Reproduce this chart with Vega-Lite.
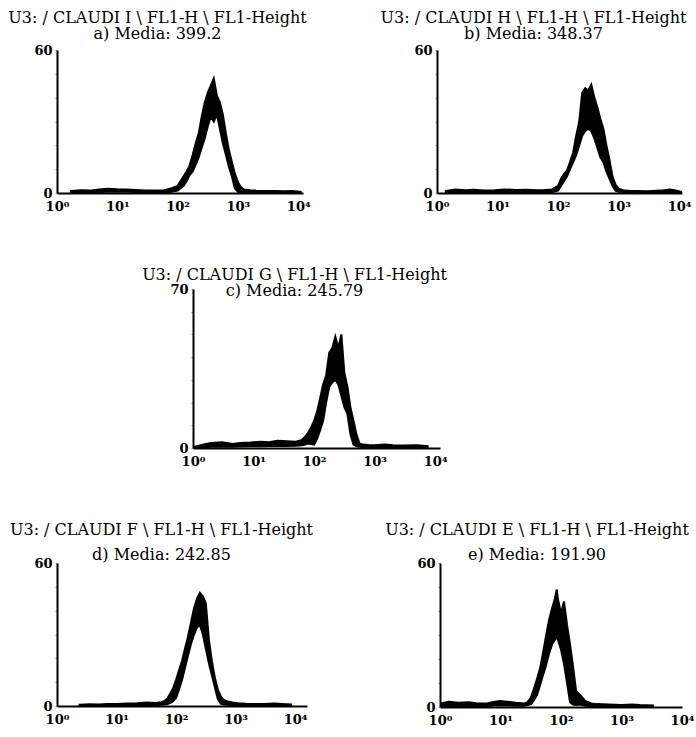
{
  "$schema": "https://vega.github.io/schema/vega-lite/v6.json",
  "padding": {"left": 8, "top": 10, "right": 0, "bottom": 0},
  "background": "white",
  "config": {
    "view": {"stroke": null},
    "title": {"font": "DejaVu Serif", "fontSize": 16, "fontWeight": "normal", "lineHeight": 16, "color": "black", "anchor": "middle"},
    "axis": {"domainColor": "black", "domainWidth": 2, "labelFont": "DejaVu Serif", "labelFontSize": 13, "labelFontWeight": "bold", "labelColor": "black", "grid": false, "title": null},
    "axisX": {"ticks": false, "labelPadding": 7, "labelFlush": false, "labelOverlap": false},
    "axisY": {"tickSize": 2, "tickColor": "#999", "labelPadding": 3}
  },
  "datasets": {
    "a": [
      {"x":1.7,"lo":0,"hi":0.8},{"x":2.5,"lo":0.2,"hi":1.2},{"x":3.5,"lo":0.3,"hi":1.0},{"x":5,"lo":0.4,"hi":1.5},{"x":7,"lo":0.5,"hi":1.8},{"x":10,"lo":0.6,"hi":1.6},{"x":14,"lo":0.5,"hi":1.5},{"x":20,"lo":0.4,"hi":1.3},{"x":30,"lo":0.3,"hi":1.0},{"x":45,"lo":0.2,"hi":1.0},{"x":60,"lo":0.3,"hi":1.2},{"x":80,"lo":0.5,"hi":2.0},
      {"x":100,"lo":1,"hi":3},{"x":112,"lo":2,"hi":5},{"x":126,"lo":3,"hi":7},{"x":141,"lo":5,"hi":9},{"x":158,"lo":7.5,"hi":11.5},{"x":178,"lo":9,"hi":16},{"x":200,"lo":12,"hi":21},{"x":224,"lo":15,"hi":25},{"x":251,"lo":19,"hi":32},{"x":282,"lo":23,"hi":38},{"x":316,"lo":28,"hi":42},{"x":355,"lo":32,"hi":45},{"x":398,"lo":30,"hi":48},{"x":447,"lo":33,"hi":41},{"x":501,"lo":27,"hi":38},{"x":562,"lo":21,"hi":33},{"x":631,"lo":16,"hi":25},{"x":708,"lo":11,"hi":18},{"x":794,"lo":7,"hi":13},{"x":891,"lo":2,"hi":8},{"x":1000,"lo":0.5,"hi":4.5},
      {"x":1120,"lo":0.3,"hi":2.5},{"x":1260,"lo":0.2,"hi":1.5},{"x":1600,"lo":0.2,"hi":1.2},{"x":2000,"lo":0.2,"hi":1.0},{"x":3000,"lo":0.1,"hi":0.8},{"x":4000,"lo":0.1,"hi":0.8},{"x":6000,"lo":0.1,"hi":0.7},{"x":8000,"lo":0.1,"hi":0.8},{"x":11000,"lo":0,"hi":0.5}
    ],
    "b": [
      {"x":1.4,"lo":0,"hi":0.8},{"x":2,"lo":0.2,"hi":1.5},{"x":3,"lo":0.3,"hi":1.2},{"x":4,"lo":0.2,"hi":1.4},{"x":6,"lo":0.3,"hi":1.0},{"x":9,"lo":0.2,"hi":1.2},{"x":13,"lo":0.4,"hi":1.5},{"x":20,"lo":0.4,"hi":1.3},{"x":30,"lo":0.3,"hi":1.4},{"x":45,"lo":0.3,"hi":1.2},{"x":60,"lo":0.3,"hi":1.3},{"x":80,"lo":0.4,"hi":1.5},
      {"x":100,"lo":1,"hi":3},{"x":112,"lo":3,"hi":6},{"x":126,"lo":5,"hi":8},{"x":141,"lo":7,"hi":9.5},{"x":158,"lo":10,"hi":13},{"x":178,"lo":13,"hi":17},{"x":200,"lo":16,"hi":24},{"x":224,"lo":20,"hi":30},{"x":251,"lo":24,"hi":42},{"x":282,"lo":26,"hi":44},{"x":316,"lo":27,"hi":43},{"x":355,"lo":26,"hi":45.5},{"x":398,"lo":23,"hi":40},{"x":447,"lo":19,"hi":36},{"x":501,"lo":15,"hi":31},{"x":562,"lo":13,"hi":27},{"x":631,"lo":9,"hi":20},{"x":708,"lo":6,"hi":14},{"x":794,"lo":3,"hi":7},{"x":891,"lo":1,"hi":3.5},{"x":1000,"lo":0.5,"hi":1.8},
      {"x":1260,"lo":0.3,"hi":1.0},{"x":1600,"lo":0.2,"hi":0.8},{"x":2000,"lo":0.2,"hi":0.8},{"x":3000,"lo":0.1,"hi":0.7},{"x":5000,"lo":0.2,"hi":1.0},{"x":7000,"lo":0.4,"hi":1.5},{"x":8500,"lo":0.3,"hi":1.2},{"x":11000,"lo":0,"hi":0.5}
    ],
    "c": [
      {"x":1.05,"lo":0,"hi":0.5},{"x":1.5,"lo":0.3,"hi":1.5},{"x":2,"lo":0.5,"hi":2.2},{"x":3,"lo":0.6,"hi":2.5},{"x":4.5,"lo":0.5,"hi":1.8},{"x":6,"lo":0.7,"hi":2.2},{"x":9,"lo":0.8,"hi":2.4},{"x":13,"lo":0.8,"hi":2.8},{"x":18,"lo":0.9,"hi":2.5},{"x":25,"lo":1.0,"hi":3.2},{"x":35,"lo":0.9,"hi":3.0},{"x":50,"lo":1.0,"hi":2.8},
      {"x":63,"lo":1.2,"hi":3.5},{"x":71,"lo":1.5,"hi":5},{"x":79,"lo":2,"hi":6.5},{"x":89,"lo":1.8,"hi":9},{"x":100,"lo":1.5,"hi":12},{"x":112,"lo":4,"hi":16},{"x":126,"lo":8,"hi":22},{"x":141,"lo":12,"hi":28},{"x":158,"lo":20,"hi":32},{"x":178,"lo":27,"hi":42},{"x":200,"lo":29,"hi":44},{"x":224,"lo":30,"hi":49},{"x":251,"lo":28,"hi":44},{"x":282,"lo":23,"hi":50},{"x":316,"lo":18,"hi":33},{"x":355,"lo":15,"hi":27},{"x":398,"lo":6,"hi":18},{"x":447,"lo":1.5,"hi":12},{"x":501,"lo":0.8,"hi":6},{"x":562,"lo":0.5,"hi":2},
      {"x":631,"lo":0.4,"hi":1.5},{"x":800,"lo":0.3,"hi":1.3},{"x":1000,"lo":0.3,"hi":1.2},{"x":1500,"lo":0.4,"hi":1.5},{"x":2000,"lo":0.3,"hi":1.2},{"x":3000,"lo":0.3,"hi":1.1},{"x":5000,"lo":0.3,"hi":1.2},{"x":7500,"lo":0,"hi":0.8}
    ],
    "d": [
      {"x":2.4,"lo":0,"hi":0.5},{"x":3.5,"lo":0.1,"hi":0.7},{"x":5,"lo":0.1,"hi":0.6},{"x":7,"lo":0.2,"hi":0.8},{"x":10,"lo":0.2,"hi":0.8},{"x":15,"lo":0.2,"hi":1.0},{"x":22,"lo":0.3,"hi":1.2},{"x":32,"lo":0.4,"hi":1.5},{"x":45,"lo":0.4,"hi":1.3},{"x":56,"lo":0.5,"hi":1.6},
      {"x":63,"lo":0.6,"hi":2},{"x":71,"lo":0.8,"hi":3},{"x":79,"lo":1.2,"hi":5},{"x":89,"lo":2,"hi":7.5},{"x":100,"lo":3.5,"hi":11},{"x":112,"lo":7,"hi":15},{"x":126,"lo":11,"hi":19},{"x":141,"lo":16,"hi":24},{"x":158,"lo":21,"hi":29},{"x":178,"lo":26,"hi":35},{"x":200,"lo":30,"hi":41},{"x":224,"lo":33,"hi":45},{"x":251,"lo":34,"hi":47.5},{"x":282,"lo":30,"hi":46},{"x":316,"lo":24,"hi":43},{"x":355,"lo":18,"hi":28},{"x":398,"lo":13,"hi":19},{"x":447,"lo":8,"hi":12},{"x":501,"lo":3,"hi":7},{"x":562,"lo":1,"hi":4},{"x":631,"lo":0.6,"hi":2.5},
      {"x":708,"lo":0.5,"hi":2},{"x":891,"lo":0.4,"hi":1.5},{"x":1100,"lo":0.3,"hi":1.2},{"x":1500,"lo":0.2,"hi":0.9},{"x":2000,"lo":0.2,"hi":0.8},{"x":3000,"lo":0.2,"hi":0.8},{"x":4500,"lo":0.2,"hi":1.0},{"x":6000,"lo":0.2,"hi":0.8},{"x":8500,"lo":0,"hi":0.6}
    ],
    "e": [
      {"x":1.0,"lo":0.3,"hi":1.5},{"x":1.4,"lo":0.5,"hi":2.2},{"x":2,"lo":0.4,"hi":1.8},{"x":3,"lo":0.5,"hi":2.0},{"x":4,"lo":0.4,"hi":1.6},{"x":6,"lo":0.3,"hi":1.5},{"x":8,"lo":0.6,"hi":2.2},{"x":10,"lo":0.7,"hi":2.5},{"x":13,"lo":0.6,"hi":2.2},{"x":18,"lo":0.5,"hi":1.8},
      {"x":25,"lo":0.5,"hi":1.5},{"x":28,"lo":0.8,"hi":2},{"x":32,"lo":1.2,"hi":4},{"x":35,"lo":2.5,"hi":7},{"x":40,"lo":5,"hi":11.5},{"x":45,"lo":9,"hi":16},{"x":50,"lo":13,"hi":22},{"x":56,"lo":17,"hi":29},{"x":63,"lo":22,"hi":36},{"x":71,"lo":26,"hi":41},{"x":79,"lo":28,"hi":45},{"x":85,"lo":29,"hi":49},{"x":89,"lo":28,"hi":45},{"x":100,"lo":24,"hi":39},{"x":112,"lo":18,"hi":44},{"x":126,"lo":10,"hi":34},{"x":141,"lo":2,"hi":26},{"x":158,"lo":1,"hi":17},{"x":178,"lo":0.8,"hi":6.5},{"x":200,"lo":1,"hi":5.5},{"x":224,"lo":0.8,"hi":4},{"x":251,"lo":0.5,"hi":2.5},
      {"x":316,"lo":0.4,"hi":1.5},{"x":400,"lo":0.3,"hi":1.2},{"x":600,"lo":0.3,"hi":1.0},{"x":1000,"lo":0.2,"hi":0.8},{"x":1500,"lo":0.3,"hi":1.0},{"x":2000,"lo":0.2,"hi":0.8},{"x":3300,"lo":0,"hi":0.6}
    ]
  },
  "vconcat": [
    {
      "hconcat": [
        {
          "data": {"name": "a"},
          "width": 246, "height": 143,
          "title": {"text": ["U3: / CLAUDI I \\ FL1-H \\ FL1-Height", "a) Media: 399.2"], "dx": -22.5, "offset": 2},
          "mark": {"type": "area", "color": "black", "stroke": "black", "strokeWidth": 2, "clip": true},
          "encoding": {
            "x": {"field": "x", "type": "quantitative", "scale": {"type": "log", "domain": [1, 12000], "nice": false}, "axis": {"values": [1, 10, 100, 1000, 10000], "labelExpr": "'10' + ['⁰','¹','²','³','⁴'][round(log(datum.value)/LN10)]"}},
            "y": {"field": "hi", "type": "quantitative", "scale": {"domain": [0, 60], "nice": false}, "axis": {"values": [0, 10, 20, 30, 40, 50, 60], "labelExpr": "datum.value == 0 || datum.value == 60 ? datum.label : ''"}},
            "y2": {"field": "lo"}
          }
        },
        {
          "data": {"name": "b"},
          "width": 245, "height": 143,
          "title": {"text": ["U3: / CLAUDI H \\ FL1-H \\ FL1-Height", "b) Media: 348.37"], "dx": -26, "offset": 2},
          "mark": {"type": "area", "color": "black", "stroke": "black", "strokeWidth": 2, "clip": true},
          "encoding": {
            "x": {"field": "x", "type": "quantitative", "scale": {"type": "log", "domain": [1, 11200], "nice": false}, "axis": {"values": [1, 10, 100, 1000, 10000], "labelExpr": "'10' + ['⁰','¹','²','³','⁴'][round(log(datum.value)/LN10)]"}},
            "y": {"field": "hi", "type": "quantitative", "scale": {"domain": [0, 60], "nice": false}, "axis": {"values": [0, 10, 20, 30, 40, 50, 60], "labelExpr": "datum.value == 0 || datum.value == 60 ? datum.label : ''"}},
            "y2": {"field": "lo"}
          }
        }
      ],
      "spacing": 69
    },
    {
      "hconcat": [
        {
          "data": {"values": []},
          "width": 65, "height": 159,
          "mark": "rect"
        },
        {
          "data": {"name": "c"},
          "width": 247, "height": 159,
          "title": {"text": ["U3: / CLAUDI G \\ FL1-H \\ FL1-Height", "c) Media: 245.79"], "dx": -22, "offset": -16},
          "mark": {"type": "area", "color": "black", "stroke": "black", "strokeWidth": 2, "clip": true},
          "encoding": {
            "x": {"field": "x", "type": "quantitative", "scale": {"type": "log", "domain": [1, 12000], "nice": false}, "axis": {"values": [1, 10, 100, 1000, 10000], "labelExpr": "'10' + ['⁰','¹','²','³','⁴'][round(log(datum.value)/LN10)]"}},
            "y": {"field": "hi", "type": "quantitative", "scale": {"domain": [0, 70], "nice": false}, "axis": {"values": [0, 10, 20, 30, 40, 50, 60, 70], "labelExpr": "datum.value == 0 || datum.value == 70 ? datum.label : ''"}},
            "y2": {"field": "lo"}
          }
        }
      ],
      "spacing": 20
    },
    {
      "hconcat": [
        {
          "data": {"name": "d"},
          "width": 250, "height": 143,
          "title": {"text": ["U3: / CLAUDI F \\ FL1-H \\ FL1-Height", "d) Media: 242.85"], "dx": -20.5, "offset": -6, "lineHeight": 25},
          "mark": {"type": "area", "color": "black", "stroke": "black", "strokeWidth": 2, "clip": true},
          "encoding": {
            "x": {"field": "x", "type": "quantitative", "scale": {"type": "log", "domain": [1, 15800], "nice": false}, "axis": {"values": [1, 10, 100, 1000, 10000], "labelExpr": "'10' + ['⁰','¹','²','³','⁴'][round(log(datum.value)/LN10)]"}},
            "y": {"field": "hi", "type": "quantitative", "scale": {"domain": [0, 60], "nice": false}, "axis": {"values": [0, 10, 20, 30, 40, 50, 60], "labelExpr": "datum.value == 0 || datum.value == 60 ? datum.label : ''"}},
            "y2": {"field": "lo"}
          }
        },
        {
          "data": {"name": "e"},
          "width": 242, "height": 144,
          "title": {"text": ["U3: / CLAUDI E \\ FL1-H \\ FL1-Height", "e) Media: 191.90"], "dx": -24, "offset": -6, "lineHeight": 25},
          "mark": {"type": "area", "color": "black", "stroke": "black", "strokeWidth": 2, "clip": true},
          "encoding": {
            "x": {"field": "x", "type": "quantitative", "scale": {"type": "log", "domain": [1, 10000], "nice": false}, "axis": {"values": [1, 10, 100, 1000, 10000], "labelExpr": "'10' + ['⁰','¹','²','³','⁴'][round(log(datum.value)/LN10)]"}},
            "y": {"field": "hi", "type": "quantitative", "scale": {"domain": [0, 60], "nice": false}, "axis": {"values": [0, 10, 20, 30, 40, 50, 60], "labelExpr": "datum.value == 0 || datum.value == 60 ? datum.label : ''"}},
            "y2": {"field": "lo"}
          }
        }
      ],
      "spacing": 71
    }
  ],
  "spacing": 54
}
